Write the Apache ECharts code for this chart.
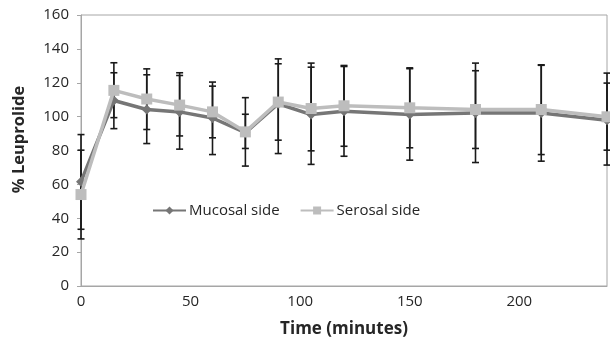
<!DOCTYPE html>
<html><head><meta charset="utf-8">
<script src="https://cdn.jsdelivr.net/npm/echarts@6/dist/echarts.min.js"></script>
<style>html,body{margin:0;padding:0;background:#fff}#c{width:610px;height:343px}</style>
</head><body><div id="c"></div>
<script>
const times = [0, 15, 30, 45, 60, 75, 90, 105, 120, 150, 180, 210, 240];
const mucosal = [61.6, 109.5, 104.2, 102.8, 99.2, 90.5, 107.6, 101.2, 103.2, 101.3, 102.2, 102.1, 97.9];
const serosal = [54.0, 115.5, 110.4, 106.8, 102.8, 91.0, 108.6, 104.8, 106.4, 105.2, 104.2, 104.2, 99.9];
const mucosalLow  = [33.5, 92.9, 84.1, 80.8, 77.6, 81.2, 78.2, 71.8, 76.6, 74.3, 72.9, 73.7, 71.4];
const mucosalHigh = [89.4, 125.9, 124.7, 124.3, 118.0, 101.4, 134.1, 129.2, 129.6, 128.3, 131.6, 130.3, 125.7];
const serosalLow  = [27.8, 99.4, 92.4, 88.6, 87.5, 70.8, 86.1, 79.8, 82.5, 81.6, 81.2, 77.6, 80.2];
const serosalHigh = [80.2, 131.8, 128.2, 125.9, 120.4, 111.2, 131.2, 131.6, 130.2, 128.8, 127.1, 130.6, 119.8];
const yTicks = [0, 20, 40, 60, 80, 100, 120, 140, 160];
const xTicks = [0, 50, 100, 150, 200];

const FONT = 'Open Sans';
function errData(lo, hi) { return times.map((t, i) => [t, lo[i], hi[i]]); }
function renderErr(params, api) {
  const x = api.value(0);
  const p1 = api.coord([x, api.value(1)]);
  const p2 = api.coord([x, api.value(2)]);
  const w = 3.5;
  const st = { stroke: '#1a1a1a', lineWidth: 1.6 };
  return { type: 'group', children: [
    { type: 'line', shape: { x1: p1[0], y1: p1[1], x2: p2[0], y2: p2[1] }, style: st },
    { type: 'line', shape: { x1: p1[0]-w, y1: p1[1], x2: p1[0]+w, y2: p1[1] }, style: st },
    { type: 'line', shape: { x1: p2[0]-w, y1: p2[1], x2: p2[0]+w, y2: p2[1] }, style: st }
  ]};
}
const chart = echarts.init(document.getElementById('c'), null, { renderer: 'canvas' });
chart.setOption({
  animation: false,
  textStyle: { fontFamily: FONT },
  grid: { left: 81, right: 2, top: 15, bottom: 55, show: true, borderColor: '#a6a6a6', borderWidth: 1 },
  legend: {
    left: 147, top: 198, itemGap: 20, itemWidth: 33, itemHeight: 10,
    textStyle: { fontFamily: FONT, fontSize: 15, color: '#262626', padding: [0, 0, 0, -2] },
    data: ['Mucosal side', 'Serosal side']
  },
  xAxis: {
    type: 'value', min: 0, max: 240, interval: 50,
    name: 'Time (minutes)', nameLocation: 'middle', nameGap: 35,
    nameTextStyle: { fontFamily: FONT, fontSize: 17, fontWeight: 'bold', color: '#262626' },
    axisLine: { lineStyle: { color: '#a6a6a6', width: 1 } },
    axisTick: { show: false },
    splitLine: { show: false },
    axisLabel: { fontFamily: FONT, fontSize: 15, color: '#262626', margin: 8,
      formatter: v => xTicks.includes(v) ? String(v) : '' }
  },
  yAxis: {
    type: 'value', min: 0, max: 160, interval: 20,
    name: '% Leuprolide', nameLocation: 'middle', nameGap: 53,
    nameTextStyle: { fontFamily: FONT, fontSize: 16.5, fontWeight: 'bold', color: '#262626', padding: [0, 0, 0, 22] },
    axisLine: { show: true, lineStyle: { color: '#a6a6a6', width: 1 } },
    axisTick: { show: true, length: 4, lineStyle: { color: '#a6a6a6' } },
    splitLine: { show: false },
    axisLabel: { fontFamily: FONT, fontSize: 15, color: '#262626', margin: 12,
      formatter: v => yTicks.includes(v) ? String(v) : '' }
  },
  series: [
    { type: 'custom', name: 'errM', renderItem: renderErr, data: errData(mucosalLow, mucosalHigh), z: 1, silent: true },
    { type: 'custom', name: 'errS', renderItem: renderErr, data: errData(serosalLow, serosalHigh), z: 1, silent: true },
    { type: 'line', name: 'Mucosal side', data: times.map((t, i) => [t, mucosal[i]]),
      symbol: 'diamond', symbolSize: 10, z: 3,
      lineStyle: { color: '#767676', width: 3.5 }, itemStyle: { color: '#767676' } },
    { type: 'line', name: 'Serosal side', data: times.map((t, i) => [t, serosal[i]]),
      symbol: 'rect', symbolSize: 11, z: 4,
      lineStyle: { color: '#bdbdbd', width: 3.5 }, itemStyle: { color: '#bdbdbd' } }
  ]
});
</script></body></html>
